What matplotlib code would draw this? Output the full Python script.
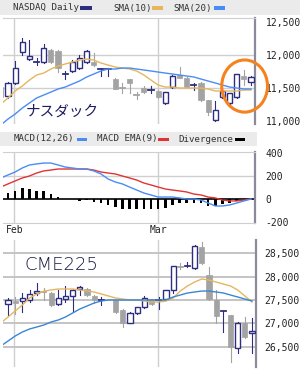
import matplotlib
matplotlib.use('Agg')
import matplotlib.pyplot as plt
from matplotlib.patches import Rectangle, Ellipse
import numpy as np

W, H = 307, 375

# trading-day index, -1 is the half-hidden day at the left edge
idx = np.arange(-1, 35)
feb_pos, mar_pos = 0.85, 20.95

# NASDAQ Daily (values as shown on the chart)
nq_open = [11515, 11379, 11576, 12045, 11940, 11894, 11894, 12076, 12061, 11712, 11758, 11803,
           11894, 11894, 11788, 11788, 11636, 11500, 11636, 11394, 11500, 11470, 11455, 11273,
           11515, 11697, 11652, 11545, 11576, 11318, 11015, 11364, 11273, 11364, 11682, 11591]
nq_high = [11530, 11590, 11909, 12258, 12227, 11955, 12167, 12090, 12070, 11758, 11924, 12000,
           12070, 12030, 11803, 11803, 11650, 11576, 11640, 11439, 11530, 11530, 11470, 11445,
           11690, 11818, 11660, 11576, 11585, 11325, 11303, 11470, 11430, 11720, 11773, 11675]
nq_low = [11350, 11350, 11560, 12000, 11930, 11848, 11880, 11880, 11742, 11636, 11750, 11790,
          11880, 11840, 11682, 11682, 11480, 11424, 11424, 11333, 11430, 11424, 11355, 11265,
          11505, 11645, 11510, 11470, 11310, 11091, 11000, 11350, 11265, 11355, 11545, 11545]
nq_close = [11364, 11576, 11803, 12197, 11985, 11900, 12106, 11894, 11803, 11718, 11894, 11955,
            12061, 11848, 11795, 11795, 11485, 11495, 11576, 11390, 11439, 11475, 11364, 11439,
            11682, 11652, 11515, 11550, 11318, 11136, 11167, 11455, 11424, 11712, 11636, 11667]
nq_sma10 = [11258, 11349, 11455, 11530, 11621, 11697, 11727, 11788, 11833, 11864, 11894, 11924,
            11939, 11924, 11879, 11848, 11818, 11803, 11788, 11758, 11697, 11621, 11545, 11515,
            11515, 11500, 11500, 11500, 11500, 11485, 11455, 11455, 11455, 11455, 11470, 11470]
nq_sma20 = [10940, 11030, 11106, 11197, 11273, 11349, 11394, 11439, 11485, 11515, 11561, 11606,
            11667, 11712, 11758, 11788, 11788, 11803, 11803, 11788, 11773, 11758, 11742, 11727,
            11712, 11697, 11682, 11667, 11636, 11606, 11576, 11545, 11515, 11500, 11485, 11485]

# MACD panel
macd = [183, 209, 235, 270, 296, 305, 313, 313, 296, 278, 270, 261, 261, 244, 218, 174, 148, 131,
        104, 78, 52, 35, 17, 17, 17, 9, 0, 0, -9, -35, -61, -61, -52, -35, -17, 0]
macd_ema = [104, 131, 157, 183, 200, 226, 244, 252, 261, 261, 261, 261, 261, 252, 235, 226, 218, 200,
            183, 165, 139, 122, 104, 87, 78, 70, 61, 43, 35, 17, 9, -9, -17, -17, -9, 0]
divergence = [55, 55, 70, 96, 87, 72, 70, 43, 20, 0, -4, -17, -9, -26, -35, -52, -70, -87,
              -87, -87, -87, -87, -87, -78, -52, -35, -35, -35, -35, -61, -61, -43, -35, -17, -9, 0]

# CME225
nan = np.nan
cme_open = [nan, 27415, 27479, 27479, 27500, 27649, 27675, 27649, 27415, 27521, 27585, 27734,
            27734, 27585, 27495, nan, 27500, 27287, 27011, 27223, 27351, 27521, 27495, 27521,
            27713, 28210, 28220, 28181, 28628, 28032, 27500, 27260, 27181, 26479, 27011, 26798]
cme_high = [nan, 27542, 27564, 27649, 27713, 27862, 27755, 27670, 27713, 27798, 27734, 27798,
            27745, 27600, 27564, nan, 27510, 27300, 27235, 27360, 27585, 27530, 27564, 27720,
            28230, 28287, 28300, 28660, 28734, 28202, 27713, 27275, 27190, 27032, 27138, 27117]
cme_low = [nan, 27181, 27202, 27245, 27457, 27606, 27500, 27380, 27400, 27457, 27245, 27606,
           27590, 27436, 27393, nan, 27230, 26925, 27000, 27202, 27340, 27400, 27309, 27510,
           27649, 28160, 28202, 28170, 28270, 27510, 27011, 26819, 26181, 26372, 26700, 26372]
cme_close = [nan, 27500, 27436, 27542, 27628, 27691, 27665, 27393, 27542, 27585, 27713, 27777,
             27606, 27500, 27500, nan, 27245, 27011, 27223, 27351, 27542, 27415, 27500, 27713,
             28223, 28202, 28223, 28649, 28287, 27521, 27160, 27266, 26500, 27011, 26713, 26840]
cme_sma_a = [27010, 27138, 27266, 27393, 27542, 27628, 27691, 27713, 27734, 27734, 27734, 27713,
             27691, 27670, 27628, 27585, 27542, 27521, 27500, 27500, 27479, 27457, 27457, 27479,
             27542, 27691, 27798, 27883, 27947, 27925, 27883, 27840, 27798, 27713, 27585, 27457]
cme_sma_b = [26520, 26627, 26734, 26819, 26883, 26925, 26968, 27032, 27074, 27138, 27223, 27308,
             27372, 27436, 27479, 27500, 27500, 27500, 27500, 27500, 27500, 27500, 27500, 27500,
             27564, 27606, 27649, 27670, 27691, 27691, 27670, 27649, 27606, 27564, 27521, 27479]

top_ticks = [12500, 12000, 11500, 11000]
top_labels = ['12,500', '12,000', '11,500', '11,000']
macd_ticks = [400, 200, 0, -200]
cme_ticks = [28500, 28000, 27500, 27000, 26500]
cme_labels = ['28,500', '28,000', '27,500', '27,000', '26,500']

UP = '#2e2e80'
DOWN = '#a3a3a3'
TAN = '#e6b65e'
BLUE = '#4a8cf5'
GRID = '#cfcfcf'
MONO = 'DejaVu Sans Mono'


def rect(x0, y0, x1, y1):
    return [x0 / W, 1 - y1 / H, (x1 - x0) / W, (y1 - y0) / H]


def candles(ax, o, h, l, c, doji, w=0.72):
    for i in range(len(idx)):
        op, hi, lo, cl = o[i], h[i], l[i], c[i]
        if np.isnan(op):
            continue
        x = idx[i]
        col = UP if cl >= op else DOWN
        ax.plot([x, x], [lo, hi], color=col, lw=0.8, zorder=2)
        if abs(cl - op) < doji:
            ax.plot([x - w / 2, x + w / 2], [cl, cl], color=col, lw=1.3, zorder=3)
        elif cl > op:
            ax.add_patch(Rectangle((x - w / 2, op), w, cl - op, fc='white', ec=col, lw=1.0, zorder=3))
        else:
            ax.add_patch(Rectangle((x - w / 2, cl), w, op - cl, fc=col, ec=col, lw=0.5, zorder=3))


def style(ax, ticks, labels, ylim, pad):
    ax.set_xlim(-0.7, 34.55)
    ax.set_ylim(*ylim)
    ax.set_xticks([])
    ax.yaxis.tick_right()
    ax.set_yticks(ticks)
    ax.set_yticklabels(labels, fontfamily=MONO, fontsize=7, color='#222222')
    ax.tick_params(axis='y', length=0, pad=pad)
    for s in ['left', 'top', 'bottom']:
        ax.spines[s].set_visible(False)
    ax.spines['right'].set_color('#8a8a9c')
    ax.spines['right'].set_linewidth(1.6)
    for xv in [feb_pos, mar_pos]:
        ax.axvline(xv, color=GRID, lw=1.0, zorder=0)


fig = plt.figure(figsize=(W / 100, H / 100), dpi=100)
fig.patch.set_facecolor('white')

# header bands
for y0, y1, x1 in [(0, 15, 300), (132, 146, 257)]:
    fig.add_artist(Rectangle((0, 1 - y1 / H), x1 / W, (y1 - y0) / H, transform=fig.transFigure,
                             fc='#ebebeb', ec='none', zorder=0))


def ftext(x, y, s, **kw):
    fig.text(x / W, 1 - y / H, s, va='center', ha='left', fontfamily=MONO, fontsize=6.6,
             color='#333333', **kw)


def swatch(x0, x1, y, col):
    fig.add_artist(Rectangle((x0 / W, 1 - (y + 1.5) / H), (x1 - x0) / W, 3 / H,
                             transform=fig.transFigure, fc=col, ec='none'))


ftext(13, 8, 'NASDAQ Daily')
swatch(80, 92, 8, UP)
ftext(113, 8, 'SMA(10)')
swatch(152, 163, 8, TAN)
ftext(173, 8, 'SMA(20)')
swatch(214, 225, 8, BLUE)

ftext(14, 139, 'MACD(12,26)')
swatch(77, 87, 139, BLUE)
ftext(97, 139, 'MACD EMA(9)')
swatch(158, 169, 139, '#e03434')
ftext(178, 139, 'Divergence')
swatch(235, 245, 139, 'black')

# --- top panel
ax1 = fig.add_axes(rect(3, 18, 255, 124))
style(ax1, top_ticks, top_labels, (10955, 12561), 7.5)
ax1.spines['top'].set_visible(True)
ax1.spines['top'].set_color(GRID)
for yv in [12000, 11500]:
    ax1.axhline(yv, color=GRID, lw=1.0, zorder=0)
candles(ax1, nq_open, nq_high, nq_low, nq_close, 20)
ax1.plot(idx, nq_sma10, color=TAN, lw=1.0, zorder=4)
ax1.plot(idx, nq_sma20, color=BLUE, lw=1.0, zorder=4)
ax1.text(0.09, 0.12, 'ナスダック', transform=ax1.transAxes, fontsize=10.5,
         family=['Noto Sans CJK JP', 'DejaVu Sans'], color='#1c1c5e', va='center', zorder=5)
ax1.add_patch(Ellipse((33.1, 11530), 6.4, 790, fill=False, ec='#f5821f', lw=2.2,
                      clip_on=False, zorder=10))

# --- MACD panel
ax2 = fig.add_axes(rect(3, 152, 255, 223))
style(ax2, macd_ticks, [str(t) for t in macd_ticks], (-209, 409), 7.5)
for s in ['top', 'bottom']:
    ax2.spines[s].set_visible(True)
    ax2.spines[s].set_color(GRID)
ax2.axhline(200, color=GRID, lw=1.0, zorder=0)
ax2.bar(idx, divergence, width=0.36, color='black', zorder=2)
ax2.axhline(0, color='black', lw=1.2, zorder=2)
ax2.plot(idx, macd_ema, color='#e03434', lw=1.0, zorder=3)
ax2.plot(idx, macd, color=BLUE, lw=1.0, zorder=4)

fig.text(15 / W, 1 - 230 / H, 'Feb', ha='center', va='center', fontfamily=MONO, fontsize=7, color='#222222')
fig.text(158 / W, 1 - 230 / H, 'Mar', ha='center', va='center', fontfamily=MONO, fontsize=7, color='#222222')

# --- CME225 panel
ax3 = fig.add_axes(rect(3, 240, 256, 367))
style(ax3, cme_ticks, cme_labels, (26074, 28777), 6)
for yv in cme_ticks:
    ax3.axhline(yv, color='#c4c4c4', lw=1.4, zorder=0)
candles(ax3, cme_open, cme_high, cme_low, cme_close, 25)
ax3.plot(idx, cme_sma_a, color=TAN, lw=1.0, zorder=4)
ax3.plot(idx, cme_sma_b, color='#3a86d4', lw=1.0, zorder=4)
ax3.text(0.085, 0.8, 'CME225', transform=ax3.transAxes, fontsize=13, fontfamily='DejaVu Sans',
         fontweight='light', color='#16163e', va='center', zorder=5)

fig.savefig('out.png', dpi=100)
